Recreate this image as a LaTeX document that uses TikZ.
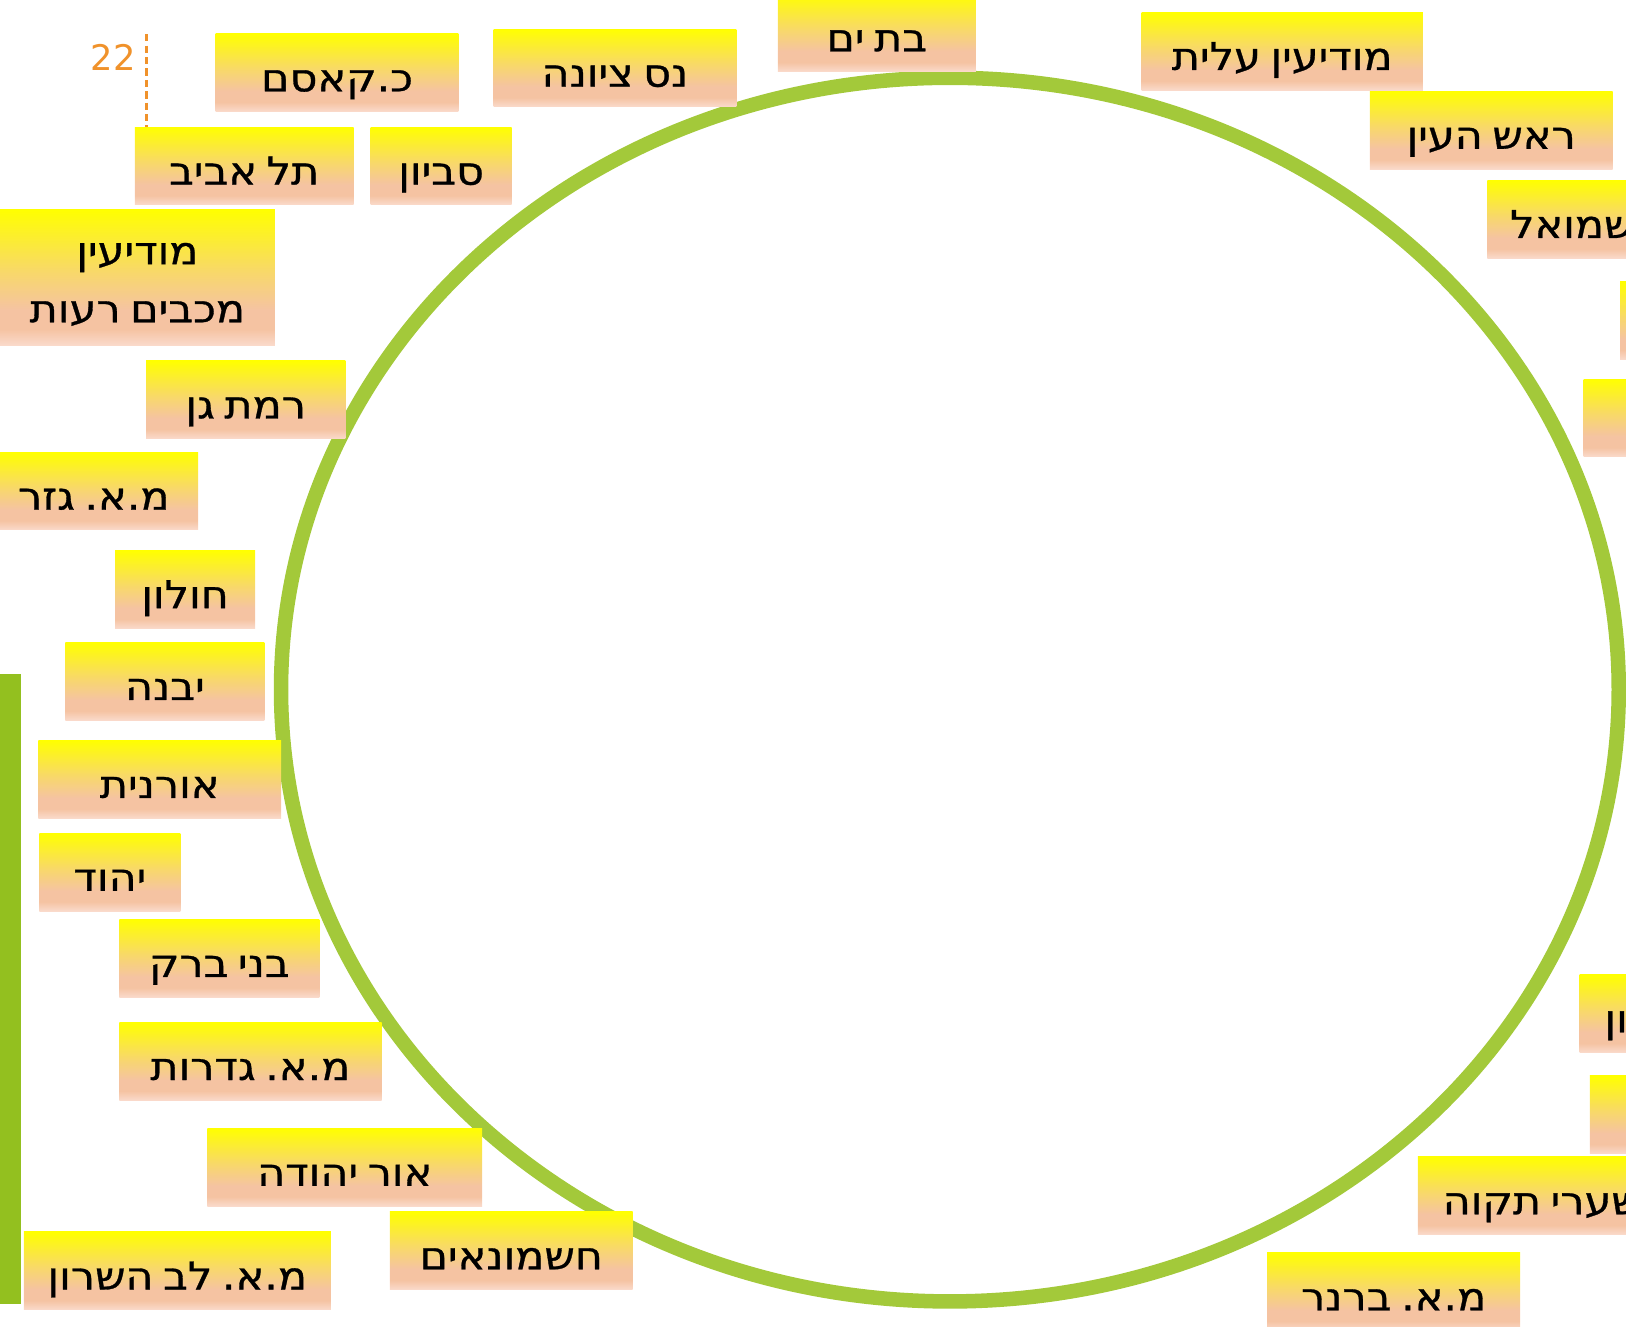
\documentclass[tikz,border=0pt]{standalone}
\usepackage{fontspec}
\usetikzlibrary{positioning}
\newfontfamily\hebfont[Script=Hebrew, FakeStretch=1.12, FakeBold=0.8, WordSpace=0.7]{DejaVu Sans}
\newfontfamily\numfont{DejaVu Sans}
\TeXXeTstate=1
\frenchspacing
\definecolor{ringgreen}{HTML}{A3C93A}
\definecolor{bargreen}{HTML}{93C01F}
\definecolor{markorange}{HTML}{F0922B}
\definecolor{boxyellow}{HTML}{FFFF00}
\definecolor{boxgold}{HTML}{F8D86A}
\definecolor{boxpeach}{HTML}{F5C3A2}
\definecolor{boxpale}{HTML}{FADACB}
\pgfdeclareverticalshading{citygrad}{100bp}{color(0bp)=(boxpale); color(25bp)=(boxpale); color(31bp)=(boxpeach); color(38bp)=(boxpeach); color(52bp)=(boxgold); color(75bp)=(boxyellow); color(100bp)=(boxyellow)}
\newcommand{\heb}[1]{\beginR #1\endR}
\tikzset{
  citybase/.style={shade, shading=citygrad, inner xsep=0pt, inner ysep=0pt, align=center,
    font=\hebfont\fontsize{37}{56}\selectfont\frenchspacing},
  city/.style={citybase, minimum height=75pt, text height=36pt, text depth=0pt},
  ring/.style={draw=ringgreen, line width=14pt},
  tick/.style={draw=markorange, line width=3pt, dash pattern=on 7pt off 4pt}
}
\begin{document}
\begin{tikzpicture}[x=1pt,y=-1pt]
  \useasboundingbox (0,0) rectangle (1568,1279);
  \draw[ring] (916,665) ellipse [x radius=645, y radius=590];
  \fill[bargreen] (0,650) rectangle (20,1257);

  \node[city, minimum width=234pt] (kasem) at (325,70) {\heb{כ.קאסם}};
  \node[city, minimum width=234pt] (ness) at (593,65.5) {\heb{נס ציונה}};
  \node[city, minimum width=191pt] (batyam) at (845.5,31.5) {\heb{בת ים}};
  \node[city, minimum width=271pt] (modilit) at (1236.5,49.5) {\heb{מודיעין עלית}};
  \node[city, minimum width=234pt] (rosh) at (1438,125.5) {\heb{ראש העין}};
  \node[city, anchor=west, inner xsep=22pt] (givat) at (1434,211.5) {\heb{גבעת שמואל}};
  \node[city, anchor=west, minimum width=120pt] (rightA) at (1562,309) {};
  \node[city, anchor=west, minimum width=120pt] (rightB) at (1527,403) {};
  \node[city, anchor=west, inner xsep=24pt] (rishon) at (1523,977.5) {\heb{ראשון לציון}};
  \node[city, anchor=west, minimum width=120pt] (rightC) at (1533,1075) {};
  \node[city, anchor=west, inner xsep=24pt] (shaarei) at (1367,1153) {\heb{שערי תקוה}};
  \node[city, minimum width=244pt] (brenner) at (1344,1245.5) {\heb{מ.א. ברנר}};

  \node[city, minimum width=211pt] (telaviv) at (235.5,160) {\heb{תל אביב}};
  \node[city, minimum width=136pt, right=16pt of telaviv] (savion) {\heb{סביון}};
  \node[citybase, minimum width=265pt, minimum height=131pt] (modiin) at (132.5,267.5) {\rule{0pt}{34pt}\heb{מודיעין}\\\heb{מכבים רעות}};
  \node[city, minimum width=192pt] (ramatgan) at (237,385.5) {\heb{רמת גן}};
  \node[city, minimum width=201pt] (gezer) at (90.5,473.5) {\heb{מ.א. גזר}};
  \node[city, minimum width=135pt] (holon) at (178.5,568.5) {\heb{חולון}};
  \node[city, minimum width=192pt] (yavne) at (159,657) {\heb{יבנה}};
  \node[city, minimum width=234pt] (oranit) at (154,751.5) {\heb{אורנית}};
  \node[city, minimum width=136pt] (yehud) at (106,841) {\heb{יהוד}};
  \node[city, minimum width=193pt] (bneibrak) at (211.5,924) {\heb{בני ברק}};
  \node[city, minimum width=253pt] (gderot) at (241.5,1023.5) {\heb{מ.א. גדרות}};
  \node[city, minimum width=265pt] (oryehuda) at (332.5,1125.5) {\heb{אור יהודה}};
  \node[city, minimum width=234pt] (hashmon) at (493,1206) {\heb{חשמונאים}};
  \node[city, minimum width=296pt] (levsharon) at (171,1225.5) {\heb{מ.א. לב השרון}};

  \coordinate (tickTop) at (141,33);
  \draw[tick] (tickTop) -- (tickTop |- telaviv.north);
  \node[anchor=east, inner sep=0pt, text=markorange, font=\numfont\fontsize{34}{38}\selectfont] (num) at (131,55) {22};
\end{tikzpicture}
\end{document}
